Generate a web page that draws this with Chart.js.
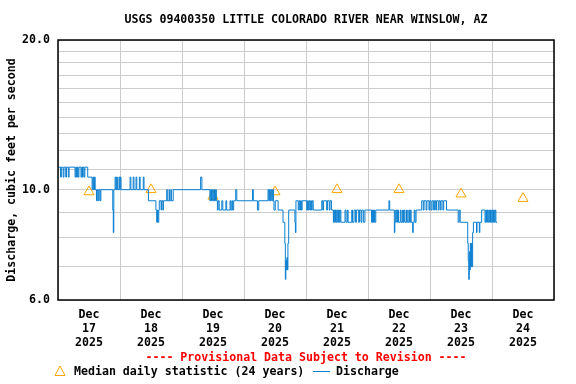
<!DOCTYPE html>
<html><head><meta charset="utf-8">
<script src="https://cdn.jsdelivr.net/npm/chart.js@4/dist/chart.umd.min.js"></script>
<style>html,body{margin:0;padding:0;background:#fff}#wrap{width:576px;height:384px;position:relative}</style>
</head><body><div id="wrap"><canvas id="c" width="576" height="384"></canvas></div>
<script>
const chartTitle = 'USGS 09400350 LITTLE COLORADO RIVER NEAR WINSLOW, AZ';
const yAxisTitle = 'Discharge, cubic feet per second';
const provisionalNote = '---- Provisional Data Subject to Revision ----';
const medianLegend = 'Median daily statistic (24 years)';
const dischargeLegend = 'Discharge';
const dayLabels = [['Dec','17','2025'],['Dec','18','2025'],['Dec','19','2025'],['Dec','20','2025'],
                   ['Dec','21','2025'],['Dec','22','2025'],['Dec','23','2025'],['Dec','24','2025']];
const yGridValues = [6,7,8,9,10,11,12,13,14,15,16,17,18,19,20];
const yLabelValues = [6,10,20];
// hours since Dec 17 00:00, step changes in discharge (cfs)
const dischargeHours = [
 0,1.0,1.3,2.0,2.3,3.0,3.3,4.0,4.3,6.6,6.9,7.2,7.5,7.8,8.1,8.9,9.2,9.5,9.7,10.1,10.4,11.5,
 13.2,13.5,13.8,14.1,14.4,14.9,15.2,15.6,15.9,16.3,16.6,21.2,21.4,21.6,22.1,22.4,22.7,23.0,23.6,23.9,24.1,24.4,
 27.9,28.2,29.1,29.4,30.2,30.5,31.5,31.8,33.0,33.3,35.0,37.9,38.2,38.5,38.7,39.0,39.2,39.9,40.1,40.6,40.8,
 42.1,42.3,43.0,43.2,43.7,43.9,44.6,
 55.2,55.7,58.8,59.1,59.4,59.7,60.0,60.3,60.6,61.0,61.3,61.7,62.0,62.4,63.4,63.8,65.0,65.3,66.6,66.9,67.3,67.6,68.0,68.8,69.2,
 75.3,75.6,77.2,77.7,81.3,81.6,81.9,82.2,82.5,82.8,83.1,83.4,83.6,84.1,85.2,87.1,87.8,88.0,88.2,88.4,88.6,88.8,89.0,89.3,
 91.7,91.9,92.1,93.0,93.3,93.6,93.9,94.2,94.5,96.3,96.6,96.9,97.2,97.5,97.8,98.1,98.4,98.8,
 102.1,102.5,102.8,104.0,104.3,105.0,105.3,105.9,106.6,106.8,107.1,107.4,107.7,108.0,108.3,108.6,108.9,109.2,109.5,
 111.1,111.5,112.0,112.3,113.7,114.0,114.6,115.2,115.5,116.4,116.7,117.3,117.6,118.2,118.8,
 121.4,121.6,121.8,122.0,122.2,122.4,122.6,123.0,
 128.1,128.4,130.2,130.4,130.7,131.1,131.4,131.8,132.5,132.8,133.4,133.7,134.0,134.3,134.9,135.2,135.8,136.1,136.4,136.7,
 137.3,137.5,137.9,138.2,138.6,140.8,141.4,141.7,142.5,142.8,143.6,143.9,144.4,144.8,145.4,145.7,146.2,146.5,147.2,147.5,
 148.0,148.3,149.0,149.3,150.4,
 154.9,155.3,155.7,158.6,158.8,159.0,159.2,159.4,159.6,159.8,160.0,160.2,160.5,160.8,162.0,162.2,163.1,163.3,164.0,
 165.3,165.6,165.9,166.2,166.5,166.8,167.1,167.4,167.7,168.0,168.3,168.6,168.9,169.2,169.5,170.0
];
const dischargeCfs = [
 11.1,10.6,11.1,10.6,11.1,10.6,11.1,10.6,11.1,10.6,11.1,10.6,11.1,10.6,11.1,10.6,11.1,10.6,11.1,10.6,11.1,10.6,
 10.0,10.6,10.0,10.6,10.0,9.5,10.0,9.5,10.0,9.5,10.0,9.1,8.2,10.0,10.6,10.0,10.6,10.0,10.6,10.0,10.6,10.0,
 10.6,10.0,10.6,10.0,10.6,10.0,10.6,10.0,10.6,10.0,9.5,9.1,8.6,9.1,8.6,9.1,9.5,9.1,9.5,9.1,9.5,
 10.0,9.5,10.0,9.5,10.0,9.5,10.0,
 10.6,10.0,9.5,10.0,9.5,10.0,9.5,10.0,9.5,10.0,9.5,9.1,9.5,9.1,9.5,9.1,9.5,9.1,9.5,9.1,9.5,9.1,9.5,10.0,9.5,
 10.0,9.5,9.1,9.5,10.0,9.5,10.0,9.5,10.0,9.5,10.0,9.5,9.1,9.5,9.1,8.6,7.8,6.6,7.2,6.9,7.3,6.9,7.8,9.1,
 8.6,8.2,9.5,9.1,9.5,9.1,9.5,9.1,9.5,9.1,9.5,9.1,9.5,9.1,9.5,9.1,9.5,9.1,
 9.5,9.1,9.5,9.1,9.5,9.1,9.5,9.1,8.6,9.1,8.6,9.1,8.6,9.1,8.6,9.1,8.6,9.1,8.6,
 9.1,8.6,9.1,8.6,9.1,8.6,9.1,8.6,9.1,8.6,9.1,8.6,9.1,8.6,9.1,
 8.6,9.1,8.6,9.1,8.6,9.1,8.6,9.1,
 9.5,9.1,8.2,8.6,9.1,8.6,9.1,8.6,9.1,8.6,9.1,8.6,9.1,8.6,9.1,8.6,9.1,8.6,9.1,8.6,
 8.2,8.6,9.1,8.6,9.1,9.5,9.1,9.5,9.1,9.5,9.1,9.5,9.1,9.5,9.1,9.5,9.1,9.5,9.1,9.5,
 9.1,9.5,9.1,9.5,9.1,
 8.6,9.1,8.6,7.8,7.2,6.6,7.5,6.9,7.8,7.0,7.8,7.0,8.2,8.6,8.2,8.6,8.2,8.6,9.1,
 8.6,9.1,8.6,9.1,8.6,9.1,8.6,9.1,8.6,9.1,8.6,9.1,8.6,9.1,8.6,8.6
];
const medianHours = [12,36,60,84,108,132,156,180];
const medianCfs = [9.9,10.0,9.7,9.9,10.0,10.0,9.8,9.6];

const FONT_FAMILY = '"DejaVu Sans Mono", "Liberation Mono", monospace';
const FONT_SIZE = 11.6;
const BLUE = '#0a7fd0';
const ORANGE = '#ffa500';

const overlay = {
  id: 'overlay',
  afterDraw(chart) {
    const {ctx, chartArea: a} = chart;
    ctx.save();
    ctx.strokeStyle = '#000';
    ctx.lineWidth = 1.5;
    ctx.strokeRect(a.left, a.top, a.right - a.left, a.bottom - a.top);
    ctx.font = 'bold ' + FONT_SIZE + 'px ' + FONT_FAMILY;
    ctx.fillStyle = '#000';
    ctx.textAlign = 'center';
    ctx.textBaseline = 'middle';
    const cx = (a.left + a.right) / 2;
    ctx.fillText(chartTitle, cx, 20);
    ctx.save();
    ctx.translate(12, (a.top + a.bottom) / 2);
    ctx.rotate(-Math.PI / 2);
    ctx.fillText(yAxisTitle, 0, 0);
    ctx.restore();
    ctx.fillStyle = '#ff0000';
    ctx.fillText(provisionalNote, cx, 358);
    // legend
    ctx.textAlign = 'left';
    ctx.fillStyle = '#000';
    ctx.fillText(medianLegend, 74, 372);
    ctx.fillText(dischargeLegend, 336, 372);
    ctx.strokeStyle = BLUE;
    ctx.lineWidth = 1;
    ctx.beginPath();
    ctx.moveTo(313, 371.5); ctx.lineTo(330, 371.5); ctx.stroke();
    ctx.strokeStyle = ORANGE;
    ctx.beginPath();
    ctx.moveTo(60, 366); ctx.lineTo(65, 375.5); ctx.lineTo(55, 375.5); ctx.closePath(); ctx.stroke();
    ctx.restore();
  }
};

new Chart(document.getElementById('c'), {
  type: 'line',
  data: {
    datasets: [
      {
        label: dischargeLegend,
        data: dischargeHours.map((h, i) => ({x: h, y: dischargeCfs[i]})),
        borderColor: BLUE, borderWidth: 1, pointRadius: 0, stepped: true, fill: false, order: 1
      },
      {
        label: medianLegend,
        data: medianHours.map((h, i) => ({x: h, y: medianCfs[i]})),
        showLine: false, pointStyle: 'triangle', pointRadius: 5.8,
        borderColor: ORANGE, backgroundColor: 'rgba(0,0,0,0)', pointBorderWidth: 1, order: 2
      }
    ]
  },
  options: {
    responsive: false, animation: false, devicePixelRatio: 1,
    layout: {padding: {left: 0, right: 22, top: 40, bottom: 0}},
    plugins: {legend: {display: false}, tooltip: {enabled: false}, title: {display: false}},
    scales: {
      x: {
        type: 'linear', min: 0, max: 192,
        afterBuildTicks: s => { s.ticks = [0,12,24,36,48,60,72,84,96,108,120,132,144,156,168,180,192].map(v => ({value: v})); },
        afterFit: s => { s.height = 84; },
        grid: {color: c => (c.tick && c.tick.value % 24 === 0) ? '#cccccc' : 'rgba(0,0,0,0)', drawTicks: false, lineWidth: 1},
        border: {display: false},
        ticks: {
          autoSkip: false, maxRotation: 0, padding: 8, color: '#000',
          font: {family: FONT_FAMILY, size: FONT_SIZE, weight: 'bold', lineHeight: 1.2},
          callback: v => (v % 24 === 12) ? dayLabels[(v - 12) / 24] : ''
        }
      },
      y: {
        type: 'logarithmic', min: 6, max: 20,
        afterBuildTicks: s => { s.ticks = yGridValues.map(v => ({value: v})); },
        afterFit: s => { s.width = 58; },
        grid: {color: '#cccccc', drawTicks: false, lineWidth: 1},
        border: {display: false},
        ticks: {
          autoSkip: false, padding: 8, color: '#000',
          font: {family: FONT_FAMILY, size: FONT_SIZE, weight: 'bold'},
          callback: v => yLabelValues.includes(v) ? v.toFixed(1) : ''
        }
      }
    }
  },
  plugins: [overlay]
});
</script>
</body></html>
